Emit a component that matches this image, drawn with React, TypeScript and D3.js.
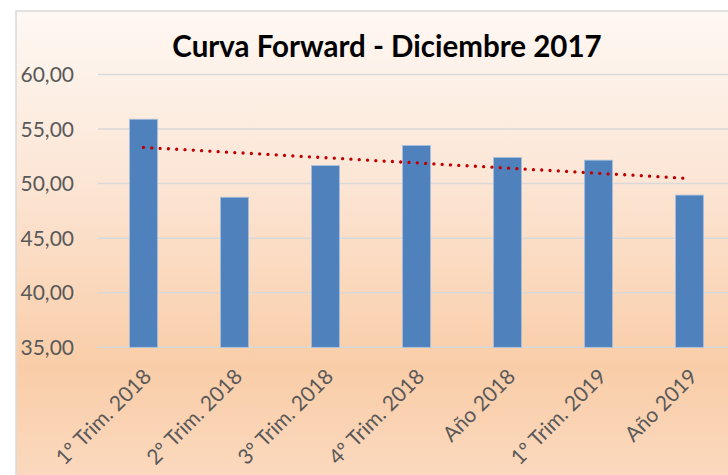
import React from "react";
import * as d3 from "d3";

const categories = ["1º Trim. 2018", "2º Trim. 2018", "3º Trim. 2018", "4º Trim. 2018", "Año 2018", "1º Trim. 2019", "Año 2019"];
const values = [55.9, 48.75, 51.65, 53.5, 52.4, 52.15, 48.95];
const yTicks = [35, 40, 45, 50, 55, 60];
const title = "Curva Forward - Diciembre 2017";

const W = 728;
const H = 475;
const FONT = "Lato, 'Open Sans', 'DejaVu Sans', sans-serif";

export default function App() {
  const x = d3.scaleBand<string>().domain(categories).range([98, 735]).paddingInner(0.692).paddingOuter(0.346);
  const y = d3.scaleLinear().domain([35, 60]).range([347.3, 74.5]);
  const fmt = (v: number) => d3.format(".2f")(v).replace(".", ",");

  // linear trendline (least squares)
  const n = values.length;
  const xs = values.map((_, i) => i + 1);
  const mx = d3.mean(xs) as number;
  const my = d3.mean(values) as number;
  const slope = d3.sum(xs.map((xi, i) => (xi - mx) * (values[i] - my))) / d3.sum(xs.map((xi) => (xi - mx) ** 2));
  const intercept = my - slope * mx;
  const trend = categories.map((c, i) => [x(c)! + x.bandwidth() / 2, y(intercept + slope * (i + 1))] as [number, number]);
  const trendPath = d3.line()([trend[0], trend[n - 1]]) as string;

  return (
    <svg width={W} height={H} style={{ position: "absolute", left: 0, top: 0, display: "block" }}>
      <defs>
        <linearGradient id="bg" x1="0" y1="0" x2="0" y2="1">
          <stop offset="0%" stopColor="#FEF8F3" />
          <stop offset="35%" stopColor="#FCE6D6" />
          <stop offset="75%" stopColor="#F9CDA8" />
          <stop offset="100%" stopColor="#FBDAC0" />
        </linearGradient>
      </defs>
      <rect x={0} y={0} width={W} height={H} fill="#ffffff" />
      <rect x={16} y={11} width={W} height={H} fill="url(#bg)" stroke="#D9D9D9" strokeWidth={1.5} />
      <text x={387} y={57} textAnchor="middle" fontFamily={FONT} fontWeight="bold" fontSize={29.5} fill="#000">
        {title}
      </text>
      {yTicks.map((t) => (
        <g key={t}>
          <line x1={98} x2={W} y1={y(t)} y2={y(t)} stroke="#D9D9D9" strokeWidth={1.5} />
          <text x={74} y={y(t) + 7.5} textAnchor="end" fontFamily={FONT} fontSize={21} fill="#595959">
            {fmt(t)}
          </text>
        </g>
      ))}
      {categories.map((c, i) => (
        <rect
          key={c}
          x={x(c)!}
          y={y(values[i])}
          width={x.bandwidth()}
          height={y(35) - y(values[i])}
          fill="#4F81BD"
          stroke="#A9C0DD"
          strokeWidth={0.8}
        />
      ))}
      <path d={trendPath} fill="none" stroke="#C00000" strokeWidth={3.3} strokeLinecap="round" strokeDasharray="0.01 8.3" />
      {categories.map((c) => {
        const cx = x(c)! + x.bandwidth() / 2;
        return (
          <text
            key={c}
            transform={`translate(${cx + 9},${378}) rotate(-45)`}
            textAnchor="end"
            fontFamily={FONT}
            fontSize={21}
            fill="#595959"
          >
            {c}
          </text>
        );
      })}
    </svg>
  );
}
